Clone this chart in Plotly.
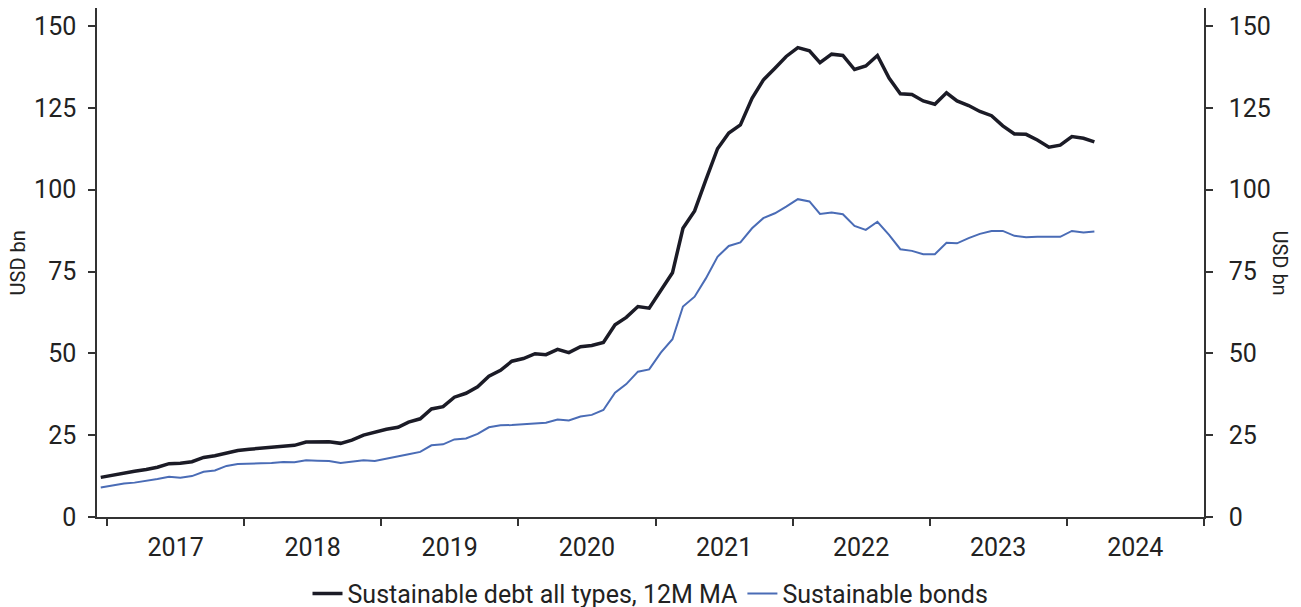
import plotly.graph_objects as go
import pandas as pd

# Monthly observations, Dec 2016 .. Mar 2024 (plotted mid-month)
months = pd.date_range("2016-12-01", "2024-03-01", freq="MS") + pd.Timedelta(days=14)

debt_all_types = [
    12.1,
    12.8, 13.5, 14.0, 14.5, 15.2, 16.3, 16.4, 16.9, 18.2, 18.7, 19.6, 20.3,
    20.7, 21.0, 21.3, 21.8, 21.9, 22.9, 23.0, 23.0, 22.5, 23.5, 25.0, 26.0,
    26.8, 27.4, 29.0, 30.0, 33.0, 33.7, 36.6, 37.8, 39.8, 43.0, 44.8, 47.6,
    48.4, 49.9, 49.6, 51.2, 50.2, 52.0, 52.4, 53.3, 58.7, 61.0, 64.3, 63.8,
    69.4, 74.6, 88.2, 93.5, 103.0, 112.5, 117.3, 119.8, 127.9, 133.5, 137.1, 140.7,
    143.4, 142.4, 138.8, 141.4, 141.0, 136.7, 137.8, 141.0, 134.1, 129.3, 129.1, 127.1,
    126.1, 129.6, 127.1, 125.7, 123.9, 122.6, 119.5, 117.0, 116.9, 115.2, 113.0, 113.6,
    116.2, 115.7, 114.6,
]

sustainable_bonds = [
    9.0,
    9.6, 10.2, 10.5, 11.0, 11.6, 12.3, 12.0, 12.5, 13.8, 14.2, 15.6, 16.2,
    16.2, 16.4, 16.5, 16.8, 16.7, 17.3, 17.2, 17.1, 16.5, 17.0, 17.3, 17.1,
    17.9, 18.5, 19.2, 19.9, 21.9, 22.2, 23.7, 24.0, 25.4, 27.4, 28.0, 28.1,
    28.4, 28.7, 28.8, 29.8, 29.5, 30.7, 31.2, 32.7, 38.0, 40.6, 44.4, 45.1,
    50.2, 54.3, 64.3, 67.3, 72.9, 79.5, 82.8, 83.9, 88.2, 91.3, 92.8, 94.8,
    97.1, 96.4, 92.6, 93.0, 92.5, 88.9, 87.7, 90.2, 86.2, 81.8, 81.3, 80.3,
    80.3, 83.8, 83.6, 85.2, 86.5, 87.4, 87.4, 85.9, 85.5, 85.6, 85.6, 85.6,
    87.4, 86.9, 87.2,
]

y_ticks = [0, 25, 50, 75, 100, 125, 150]
y_title = "USD bn"
names = ["Sustainable debt all types, 12M MA", "Sustainable bonds"]

FONT = "Roboto, Arial, sans-serif"
TXT = "#222222"
AX = "#333333"
YR = [0, 155.5]

fig = go.Figure()
fig.add_trace(go.Scatter(x=months, y=debt_all_types, name=names[0], mode="lines",
                         line=dict(color="#1b1b26", width=3.5)))
fig.add_trace(go.Scatter(x=months, y=sustainable_bonds, name=names[1], mode="lines",
                         line=dict(color="#4a6cb6", width=2), yaxis="y2"))

yax_common = dict(range=YR, tickvals=y_ticks, showgrid=False, zeroline=False,
                  showline=True, linecolor=AX, linewidth=1.5, ticks="outside",
                  ticklen=7, tickwidth=1.5, tickcolor=AX, automargin=False,
                  tickfont=dict(family=FONT, size=25, color=TXT))

fig.update_layout(
    width=1293, height=599,
    margin=dict(l=89, r=97, t=0, b=90, autoexpand=False),
    paper_bgcolor="white", plot_bgcolor="white",
    showlegend=True,
    legend=dict(orientation="h", x=0.5, xanchor="center", y=-0.151, yanchor="middle",
                font=dict(family=FONT, size=25, color=TXT), itemwidth=30,
                tracegroupgap=0, bgcolor="rgba(0,0,0,0)"),
    xaxis=dict(type="date", range=["2016-12-05", "2025-01-01"],
               tick0="2017-01-01", dtick="M12", tickformat="%Y",
               ticklabelmode="period", showgrid=False, zeroline=False,
               showline=True, linecolor=AX, linewidth=1.5, ticks="outside",
               ticklen=7, tickwidth=1.5, tickcolor=AX, automargin=False,
               tickfont=dict(family=FONT, size=25, color=TXT)),
    yaxis=dict(**yax_common, side="left", ticklabelstandoff=7),
    yaxis2=dict(**yax_common, side="right", overlaying="y", ticklabelstandoff=11),
    annotations=[
        dict(text=y_title, xref="paper", yref="paper", x=-0.0714, y=0.5,
             xanchor="center", yanchor="middle", textangle=-90, showarrow=False,
             font=dict(family=FONT, size=20, color=TXT)),
        dict(text=y_title, xref="paper", yref="paper", x=1.0687, y=0.5,
             xanchor="center", yanchor="middle", textangle=90, showarrow=False,
             font=dict(family=FONT, size=20, color=TXT)),
    ],
)

fig.write_html("out.html")
